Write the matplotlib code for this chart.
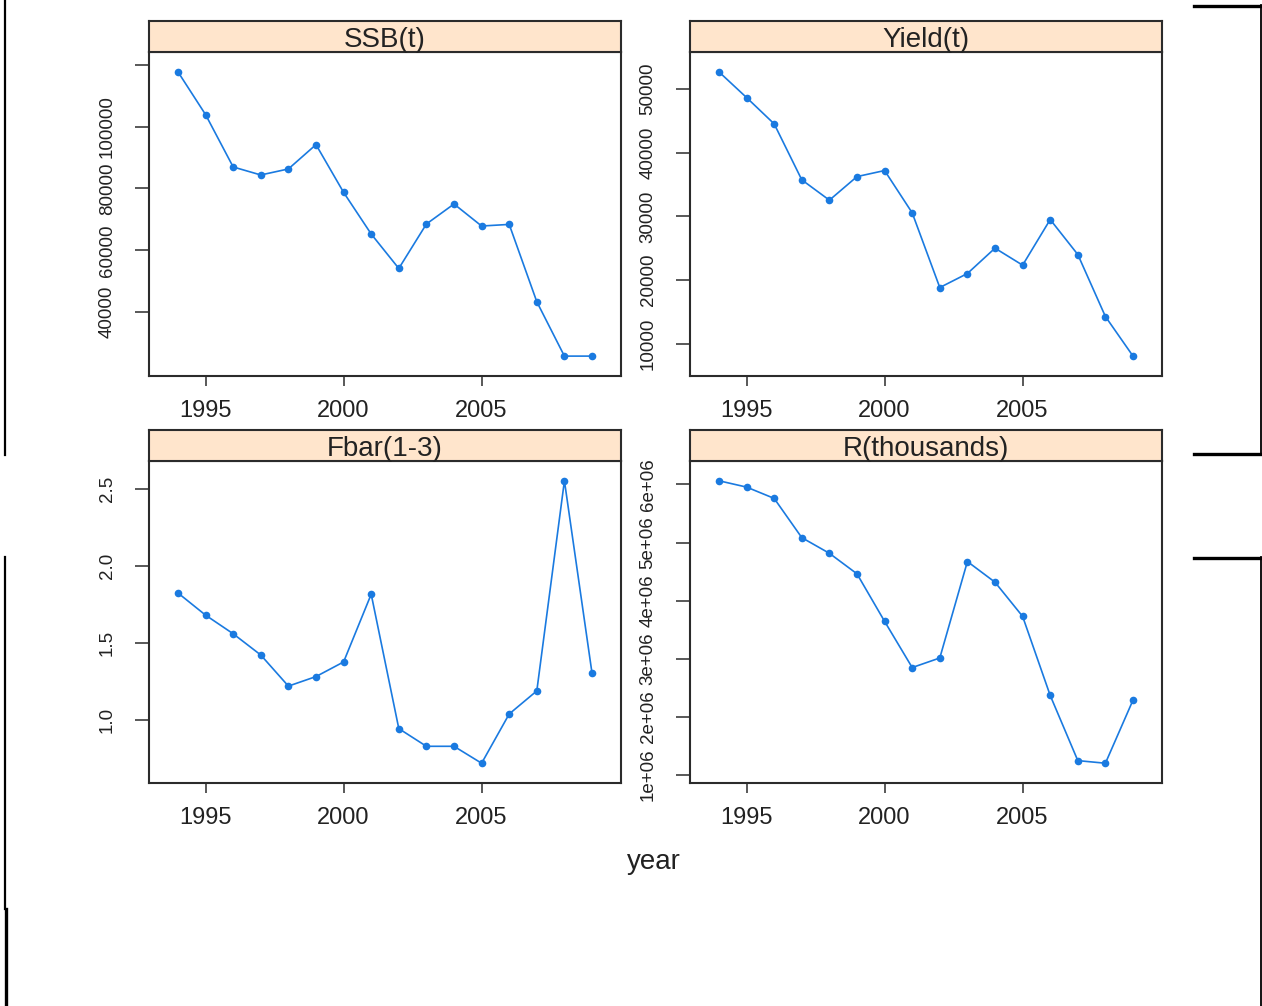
import matplotlib
matplotlib.use("Agg")
import matplotlib.pyplot as plt
from matplotlib.lines import Line2D
import numpy as np

plt.rcParams['font.family'] = ['Liberation Sans', 'DejaVu Sans']

years = list(range(1994, 2010))

ssb = [117730, 103900, 86960, 84370, 86320, 94190, 78740, 65260,
       54120, 68500, 74980, 67850, 68370, 43340, 25750, 25750]
yield_t = [52670, 48640, 44510, 35730, 32540, 36240, 37190, 30550,
           18830, 21030, 25010, 22340, 29500, 24010, 14280, 8070]
fbar = [1.825, 1.681, 1.560, 1.422, 1.220, 1.282, 1.377, 1.817,
        0.944, 0.829, 0.829, 0.719, 1.039, 1.189, 2.554, 1.304]
recruits = [6.064e6, 5.955e6, 5.760e6, 5.084e6, 4.814e6, 4.460e6, 3.641e6, 2.845e6,
            3.010e6, 4.672e6, 4.316e6, 3.727e6, 2.364e6, 1.241e6, 1.196e6, 2.284e6]

titles = ['SSB(t)', 'Yield(t)', 'Fbar(1-3)', 'R(thousands)']

ssb_ticks = [40000, 60000, 80000, 100000, 120000]
ssb_labels = ['40000', '60000', '80000', '100000', '']
yield_ticks = [10000, 20000, 30000, 40000, 50000]
yield_labels = ['10000', '20000', '30000', '40000', '50000']
fbar_ticks = [1.0, 1.5, 2.0, 2.5]
fbar_labels = ['1.0', '1.5', '2.0', '2.5']
r_ticks = [1e6, 2e6, 3e6, 4e6, 5e6, 6e6]
r_labels = ['1e+06', '2e+06', '3e+06', '4e+06', '5e+06', '6e+06']

x_ticks = [1995, 2000, 2005]

W, H = 1262, 1006
fig = plt.figure(figsize=(W / 100, H / 100), dpi=100)
fig.patch.set_facecolor('white')

line_col = '#1a7ae0'
box_col = '#2b2b2b'
strip_col = '#ffe5cc'

# panel boxes in pixels: left, top, right, bottom
panels = [
    (149, 52, 621, 376),
    (690, 52, 1162, 376),
    (149, 461, 621, 783),
    (690, 461, 1162, 783),
]
strip_h = 31

series = [ssb, yield_t, fbar, recruits]
yticks = [ssb_ticks, yield_ticks, fbar_ticks, r_ticks]
ylabels = [ssb_labels, yield_labels, fbar_labels, r_labels]

for k in range(4):
    l, t, r, b = panels[k]
    ax = fig.add_axes([l / W, 1 - b / H, (r - l) / W, (b - t) / H])
    y = np.array(series[k])
    ax.plot(years, y, '-o', color=line_col, lw=1.2, markersize=5.5,
            markeredgewidth=0)
    span = y.max() - y.min()
    ax.set_ylim(y.min() - 0.07 * span, y.max() + 0.07 * span)
    ax.set_xlim(1994 - 0.07 * 15, 2009 + 0.07 * 15)
    ax.set_xticks(x_ticks)
    ax.set_xticklabels([str(v) for v in x_ticks], fontsize=17, color='#222222')
    ax.set_yticks(yticks[k])
    ax.set_yticklabels(ylabels[k], fontsize=13.5, rotation=90, va='center',
                       color='#222222')
    ax.tick_params(axis='x', length=7, width=1.1, pad=10, color=box_col)
    ax.tick_params(axis='y', length=10, width=1.1, pad=14, color=box_col)
    for s in ax.spines.values():
        s.set_color(box_col)
        s.set_linewidth(1.5)

    sax = fig.add_axes([l / W, 1 - t / H, (r - l) / W, strip_h / H])
    sax.set_facecolor(strip_col)
    sax.set_xticks([])
    sax.set_yticks([])
    for s in sax.spines.values():
        s.set_color(box_col)
        s.set_linewidth(1.5)
    sax.text(0.5, 0.40, titles[k], transform=sax.transAxes, ha='center',
             va='center', fontsize=20, color='#222222')

fig.text(654 / W, 1 - 862 / H, 'year', ha='center', va='center',
         fontsize=20, color='#222222')

# screenshot frame lines around the picture
def px_line(x0, y0, x1, y1, lw):
    fig.add_artist(Line2D([x0 / W, x1 / W], [1 - y0 / H, 1 - y1 / H],
                          transform=fig.transFigure, color='black', lw=lw))

px_line(5, 0, 5, 455, 1.6)
px_line(5, 557, 5, 909, 1.6)
px_line(5.5, 909, 5.5, 1006, 2.4)
px_line(1194, 5.5, 1262, 5.5, 2.4)
px_line(1261, 5, 1261, 455, 1.3)
px_line(1194, 453.5, 1262, 453.5, 2.4)
px_line(1194, 558, 1262, 558, 2.4)
px_line(1261, 557, 1261, 1006, 1.3)

fig.savefig('out.png', dpi=100)
